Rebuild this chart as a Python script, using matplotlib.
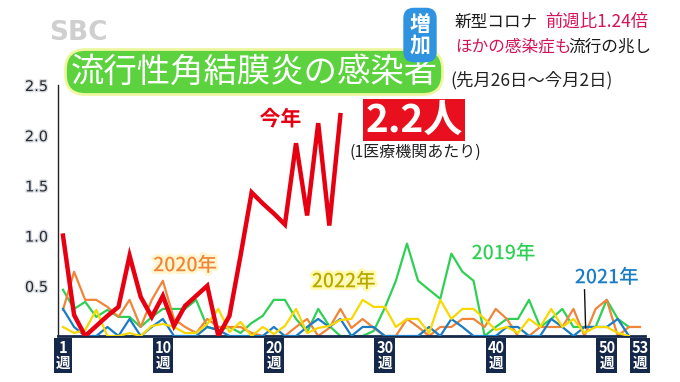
import matplotlib.pyplot as plt
import matplotlib.patheffects as pe
import numpy as np

plt.rcParams['font.family'] = ['Noto Sans CJK JP', 'DejaVu Sans']

# 1医療機関あたりの患者数（週別）
y2023 = [1.0, 0.21, 0.0, 0.1, 0.2, 0.29, 0.8, 0.39, 0.19, 0.4, 0.1, 0.3, 0.4, 0.5,
         0.0, 0.2, 0.8, 1.43, 1.32, 1.22, 1.11, 1.92, 1.2, 2.12, 1.1, 2.2]
y2019 = [0.46, 0.27, 0.34, 0.19, 0.26, 0.19, 0.19, 0.09, 0.19, 0.27, 0.27, 0.27, 0.36,
         0.09, 0.06, 0.09, 0.03, 0.13, 0.2, 0.36, 0.36, 0.17, 0.04, 0.27, 0.1, 0.0,
         0.0, 0.0, 0.05, 0.28, 0.55, 0.92, 0.55, 0.46, 0.37, 0.82, 0.64, 0.55, 0.0,
         0.09, 0.17, 0.17, 0.36, 0.09, 0.17, 0.27, 0.09, 0.09, 0.09, 0.36, 0.17, 0.09]
y2020 = [0.26, 0.64, 0.36, 0.36, 0.29, 0.19, 0.36, 0.09, 0.36, 0.55, 0.17, 0.09, 0.03,
         0.17, 0.09, 0.09, 0.09, 0.03, 0.0, 0.0, 0.0, 0.09, 0.17, 0.0, 0.08, 0.27,
         0.08, 0.17, 0.08, 0.0, 0.0, 0.17, 0.09, 0.0, 0.09, 0.09, 0.17, 0.17, 0.09,
         0.27, 0.17, 0.0, 0.0, 0.09, 0.09, 0.09, 0.27, 0.0, 0.27, 0.36, 0.0, 0.09, 0.09]
y2021 = [0.27, 0.09, 0.0, 0.0, 0.09, 0.0, 0.17, 0.0, 0.09, 0.17, 0.0, 0.0, 0.0,
         0.09, 0.06, 0.0, 0.0, 0.0, 0.0, 0.09, 0.0, 0.0, 0.09, 0.17, 0.09, 0.17,
         0.0, 0.09, 0.09, 0.0, 0.0, 0.0, 0.0, 0.09, 0.0, 0.17, 0.09, 0.0, 0.0,
         0.0, 0.09, 0.09, 0.0, 0.0, 0.17, 0.09, 0.0, 0.09, 0.09, 0.09, 0.17, 0.0]
y2022 = [0.09, 0.03, 0.06, 0.26, 0.0, 0.0, 0.03, 0.0, 0.1, 0.12, 0.09, 0.03, 0.03,
         0.12, 0.27, 0.04, 0.14, 0.0, 0.09, 0.02, 0.1, 0.27, 0.03, 0.08, 0.1, 0.16,
         0.17, 0.36, 0.29, 0.29, 0.09, 0.17, 0.17, 0.03, 0.36, 0.17, 0.27, 0.27, 0.17,
         0.06, 0.09, 0.03, 0.17, 0.09, 0.27, 0.09, 0.17, 0.03, 0.09, 0.09, 0.03, 0.0]

xticks = [1, 10, 20, 30, 40, 50, 53]
xticklabels = [f'{w}\n週' for w in xticks]
yticks = [0.5, 1.0, 1.5, 2.0, 2.5]

c_red = '#e60012'
c_orange = '#f0853a'
c_green = '#2fcf55'
c_yellow = '#f7d800'
c_blue = '#1a7cc4'
navy = '#16284a'


def wk(y):
    return np.arange(1, len(y) + 1)


fig = plt.figure(figsize=(6.8, 3.82), dpi=100)
ax = fig.add_axes([58/680, 1-336/382, (645-58)/680, (336-85)/382])

ax.plot(wk(y2019), y2019, color=c_green, lw=1.6, zorder=2)
ax.plot(wk(y2020), y2020, color=c_orange, lw=1.6, zorder=2)
ax.plot(wk(y2021), y2021, color=c_blue, lw=1.6, zorder=3)
ax.plot(wk(y2022), y2022, color=c_yellow, lw=1.6, zorder=3)
ax.plot(wk(y2023), y2023, color=c_red, lw=3.2, zorder=5, solid_joinstyle='miter')

ax.set_xlim(0.55, 53.45)
ax.set_ylim(0, 2.5)
for s in ['top', 'right']:
    ax.spines[s].set_visible(False)
ax.spines['left'].set_color('#222222')
ax.spines['left'].set_linewidth(1.0)
ax.spines['bottom'].set_color(navy)
ax.spines['bottom'].set_linewidth(2.0)

ax.set_yticks(yticks)
ax.set_yticklabels([f'{v:.1f}' for v in yticks], fontsize=10.5, color='#2a2a2a',
                   family=['DejaVu Sans'])
for t in ax.get_yticklabels():
    t.set_path_effects([pe.withStroke(linewidth=2, foreground='#d8dde6')])
ax.tick_params(axis='y', length=0, pad=7)

ax.set_xticks(xticks)
ax.set_xticklabels(xticklabels, fontsize=10.5, color='white', fontweight='bold',
                   linespacing=0.9)
for t in ax.get_xticklabels():
    t.set_bbox(dict(boxstyle='square,pad=0.12', facecolor=navy, edgecolor='none'))
ax.tick_params(axis='x', length=0, pad=3)

# series labels
glow = [pe.withStroke(linewidth=3, foreground='white')]
ax.text(20.6, 2.16, '今年', color=c_red, fontsize=15, fontweight='bold',
        ha='center', va='center', path_effects=glow)
ax.text(12.0, 0.70, '2020年', color=c_orange, fontsize=14, fontweight='medium',
        ha='center', va='center',
        path_effects=[pe.withStroke(linewidth=4, foreground='#fff6d0')])
ax.text(26.3, 0.54, '2022年', color='#b9a800', fontsize=14, fontweight='medium',
        ha='center', va='center',
        path_effects=[pe.withStroke(linewidth=4, foreground='#fffab0')])
ax.text(40.7, 0.82, '2019年', color=c_green, fontsize=14, fontweight='medium',
        ha='center', va='center', path_effects=glow)
ax.text(50.0, 0.58, '2021年', color=c_blue, fontsize=14, fontweight='medium',
        ha='center', va='center', path_effects=glow)
ax.plot([48.0, 48.1], [0.46, 0.08], color='#111111', lw=1.0, zorder=6)


def px(x, y):
    return x / 680, 1 - y / 382


# logo
fig.text(*px(78, 33), 'SBC', fontsize=19, fontweight='bold', color='#cfcfcf',
         ha='center', va='center', family=['DejaVu Sans'])

# title
fig.text(*px(254, 72), '流行性角結膜炎の感染者', fontsize=24, color='white',
         ha='center', va='center',
         bbox=dict(boxstyle='round,pad=0.15,rounding_size=0.6', facecolor='#5cd23e',
                   edgecolor='#eef7a0', linewidth=2))
fig.text(*px(450, 80), '(先月26日〜今月2日)', fontsize=12.5, color='#222222',
         ha='left', va='center')

# 2.2人
fig.text(*px(414, 120), '2.2人', fontsize=28, color='white', fontweight='bold',
         ha='center', va='center',
         bbox=dict(boxstyle='square,pad=0.05', facecolor='#e8101e', edgecolor='none'))
fig.text(*px(350, 152), '(1医療機関あたり)', fontsize=11.5, color='#222222',
         ha='left', va='center')

# header
fig.text(*px(420, 35), '増\n加', fontsize=15, color='white', fontweight='bold',
         ha='center', va='center', linespacing=1.0,
         bbox=dict(boxstyle='round,pad=0.3,rounding_size=0.5', facecolor='#2f93e0',
                   edgecolor='none'))
fig.text(*px(455, 22), '新型コロナ', fontsize=12, color='#1a1a1a',
         ha='left', va='center')
fig.text(*px(545, 22), '前週比1.24倍', fontsize=12.5, color='#d4145a',
         ha='left', va='center')
fig.text(*px(455, 47), 'ほかの感染症も', fontsize=12, color='#d4145a',
         ha='left', va='center')
fig.text(*px(568, 47), '流行の兆し', fontsize=12, color='#1a1a1a',
         ha='left', va='center')

fig.savefig('out.png', dpi=100)
